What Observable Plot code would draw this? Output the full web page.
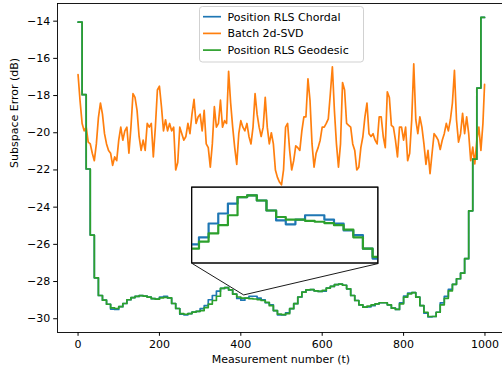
<!DOCTYPE html>
<html><head><meta charset="utf-8">
<script src="https://cdn.jsdelivr.net/npm/d3@7"></script>
<script src="https://cdn.jsdelivr.net/npm/@observablehq/plot@0.6"></script>
<style>
html,body{margin:0;padding:0;background:#fff;overflow:hidden}
#chart{position:relative;width:502px;height:370px}
#chart svg{position:absolute;left:0;top:0}
</style></head><body><div id="chart"></div>
<script>
// ---------- data ----------
const seriesNames = ["Position RLS Chordal", "Batch 2d-SVD", "Position RLS Geodesic"];
const seriesColors = ["#1f77b4", "#ff7f0e", "#2ca02c"];
const xTicks = [0, 200, 400, 600, 800, 1000];
const yTicks = [-30, -28, -26, -24, -22, -20, -18, -16, -14];
const xLabel = "Measurement number (t)";
const yLabel = "Subspace Error (dB)";

// block starts (one value held per block of 10 measurements), last measurement 999
const blockX = d3.range(0, 1000, 10);
const lastX = 999;

const geodesic = [
  -14.05, -17.95, -21.95, -25.5, -27.8, -28.75, -29.0, -29.22, -29.42, -29.45,
  -29.35, -29.18, -28.98, -28.86, -28.8, -28.76, -28.78, -28.84, -28.92, -28.95,
  -28.88, -28.85, -28.88, -29.18, -29.45, -29.72, -29.76, -29.72, -29.64, -29.6,
  -29.56, -29.40, -29.21, -29.02, -28.79, -28.37, -28.33, -28.45, -28.68, -28.83,
  -28.89, -28.89, -28.92, -28.94, -28.97, -29.02, -29.12, -29.30, -29.56, -29.75,
  -29.78, -29.73, -29.46, -29.19, -28.83, -28.57, -28.45, -28.44, -28.5, -28.53,
  -28.48, -28.35, -28.26, -28.17, -28.14, -28.2, -28.39, -28.75, -29.02, -29.25,
  -29.38, -29.32, -29.25, -29.2, -29.14, -29.14, -29.25, -29.43, -29.5, -29.2,
  -28.84, -28.66, -28.6, -28.84, -29.29, -29.65, -29.88, -29.88, -29.65, -29.25,
  -28.9, -28.5, -28.15, -27.85, -27.55, -26.77, -24.2, -21.42, -17.6, -13.8
];
const chordal = [
  -14.05, -17.95, -21.95, -25.5, -27.8, -28.75, -29.0, -29.22, -29.48, -29.5,
  -29.35, -29.18, -28.98, -28.86, -28.8, -28.76, -28.78, -28.84, -28.92, -28.95,
  -28.84, -28.8, -28.88, -29.18, -29.45, -29.76, -29.79, -29.72, -29.64, -29.6,
  -29.46, -29.30, -28.98, -28.75, -28.52, -28.37, -28.33, -28.45, -28.68, -28.91,
  -29.0, -28.89, -28.79, -28.79, -28.89, -28.98, -29.14, -29.25, -29.56, -29.79,
  -29.8, -29.68, -29.46, -29.19, -28.83, -28.57, -28.45, -28.44, -28.5, -28.53,
  -28.52, -28.35, -28.26, -28.17, -28.14, -28.2, -28.39, -28.75, -29.02, -29.25,
  -29.38, -29.36, -29.3, -29.2, -29.14, -29.14, -29.25, -29.43, -29.5, -29.15,
  -28.78, -28.62, -28.6, -28.84, -29.29, -29.7, -29.9, -29.88, -29.65, -29.15,
  -28.8, -28.42, -28.15, -27.85, -27.55, -26.77, -24.2, -21.42, -17.6, -13.8
];

// batch estimate, sampled every 5 measurements (0..995) plus 999
const batchX = d3.range(0, 1000, 5).concat([999]);
const batch = [
  -16.87, -18.3, -19.5, -19.9, -19.7, -20.5, -20.6, -21.1, -21.5, -20.6, -19.2, -18.4, -19.0, -20.05, -20.6, -20.95, -21.1, -21.75, -21.3, -21.5,
  -20.4, -19.7, -20.4, -19.9, -19.7, -21.1, -19.7, -17.9, -18.1, -18.8, -20.2, -20.95, -20.4, -20.95, -19.5, -19.7, -19.5, -21.3, -19.7, -17.7,
  -17.5, -18.6, -19.9, -19.3, -19.9, -19.5, -19.9, -19.7, -22.0, -21.6, -19.7, -20.05, -20.4, -20.2, -19.5, -20.05, -19.0, -18.2, -19.5, -19.15,
  -19.0, -19.9, -18.8, -20.6, -20.8, -21.85, -20.6, -18.6, -19.7, -19.5, -18.25, -19.7, -19.35, -19.5, -16.7, -18.4, -19.7, -20.8, -21.7, -20.05,
  -19.35, -19.7, -19.9, -19.5, -20.2, -20.6, -19.7, -17.9, -19.0, -19.7, -20.2, -19.7, -18.1, -19.7, -20.6, -20.0, -20.6, -22.0, -22.4, -22.65,
  -22.8, -22.0, -19.7, -19.5, -20.95, -22.0, -21.5, -20.7, -20.8, -20.95, -19.9, -19.15, -19.15, -17.1, -18.25, -20.6, -21.85, -21.1, -20.8, -20.4,
  -19.7, -19.7, -19.5, -19.25, -17.9, -16.45, -18.8, -20.6, -21.85, -20.6, -17.3, -17.7, -19.5, -19.6, -19.7, -20.6, -20.95, -22.0, -21.85, -20.8,
  -20.2, -19.15, -18.4, -20.05, -20.2, -20.05, -20.4, -20.6, -19.15, -19.15, -20.2, -20.8, -17.8, -18.1, -19.6, -19.7, -20.4, -21.3, -19.7, -19.7,
  -20.4, -19.7, -21.5, -21.1, -19.3, -16.3, -19.3, -20.05, -19.15, -19.7, -20.6, -21.7, -20.95, -22.2, -21.1, -20.05, -20.2, -20.4, -20.9, -20.4,
  -20.05, -19.5, -19.9, -19.3, -18.4, -16.65, -19.3, -20.5, -20.05, -18.95, -20.05, -19.15, -20.05, -21.5, -20.77, -21.67, -20.4, -19.7, -20.95, -19.5,
  -17.4
];

// inset placement (main data coords), inset view limits, and the marked spot
const insetBox = {x1: 280.5, x2: 738, y1: -27.03, y2: -22.95};
const insetXDomain = [303.3, 496.3];
const insetYDomain = [-29.90, -28.15];
const zoomSpot = {x: 407, y: -28.72};

// ---------- tables ----------
const stepRows = vals => blockX.concat([lastX]).map((x, i) => ({x, y: i < vals.length ? vals[i] : vals[vals.length - 1]}));
const chordalRows = stepRows(chordal);
const geodesicRows = stepRows(geodesic);
const batchRows = batchX.map((x, i) => ({x, y: batch[i]}));
const connectors = [
  {x1: insetBox.x1, y1: insetBox.y1, x2: zoomSpot.x, y2: zoomSpot.y},
  {x1: insetBox.x2, y1: insetBox.y1, x2: zoomSpot.x, y2: zoomSpot.y}
];

const fmtMinus = d => (d < 0 ? "\u2212" + Math.abs(d) : String(d));
const FONT = "'DejaVu Sans', sans-serif";

const mainPlot = Plot.plot({
  width: 502, height: 370,
  marginLeft: 57, marginRight: -2, marginTop: 3, marginBottom: 38,
  style: {fontFamily: FONT, fontSize: "11px", color: "#000", background: "transparent", overflow: "visible"},
  x: {domain: [-50.5, 1048]},
  y: {domain: [-30.74, -13.05]},
  marks: [
    Plot.line(chordalRows, {x: "x", y: "y", curve: "step-after", stroke: seriesColors[0], strokeWidth: 1.7}),
    Plot.line(batchRows, {x: "x", y: "y", stroke: seriesColors[1], strokeWidth: 1.7}),
    Plot.line(geodesicRows, {x: "x", y: "y", curve: "step-after", stroke: seriesColors[2], strokeWidth: 1.7}),
    Plot.rect([insetBox], {x1: "x1", x2: "x2", y1: "y1", y2: "y2", fill: "white", stroke: "black", strokeWidth: 1}),
    Plot.link(connectors, {x1: "x1", y1: "y1", x2: "x2", y2: "y2", stroke: "black", strokeWidth: 0.9}),
    Plot.frame({stroke: "#000", strokeWidth: 0.9}),
    Plot.axisX(xTicks, {tickSize: 3.8, tickPadding: 3.5, tickFormat: d => String(d), label: null, fontSize: 11}),
    Plot.axisY(yTicks, {tickSize: 3.8, tickPadding: 3.5, tickFormat: fmtMinus, label: null, fontSize: 11}),
    Plot.text([yLabel], {text: d => d, frameAnchor: "left", dx: -43, rotate: -90, fontSize: 11}),
    Plot.text([xLabel], {text: d => d, frameAnchor: "bottom", dy: 30, fontSize: 11})
  ]
});
document.getElementById("chart").appendChild(mainPlot);

// legend (upper center, inside axes)
const lg = d3.select(mainPlot).append("g").attr("font-family", FONT).attr("font-size", 11).attr("text-anchor", "start");
lg.append("rect").attr("x", 199.5).attr("y", 6.5).attr("width", 164).attr("height", 55.5)
  .attr("rx", 3).attr("fill", "white").attr("fill-opacity", 0.8).attr("stroke", "#cccccc").attr("stroke-width", 0.9);
seriesNames.forEach((name, i) => {
  const cy = 16.7 + i * 16.7;
  lg.append("line").attr("x1", 203).attr("x2", 221).attr("y1", cy).attr("y2", cy)
    .attr("stroke", seriesColors[i]).attr("stroke-width", 1.7);
  lg.append("text").attr("x", 227.5).attr("y", cy).attr("dy", "0.35em").attr("text-anchor", "start")
    .attr("fill", "#000").text(name);
});

// inset axes
const sx = mainPlot.scale("x"), sy = mainPlot.scale("y");
const insL = sx.apply(insetBox.x1), insR = sx.apply(insetBox.x2);
const insT = sy.apply(insetBox.y2), insB = sy.apply(insetBox.y1);
const insetPlot = Plot.plot({
  width: insR - insL, height: insB - insT, margin: 0,
  x: {domain: insetXDomain, axis: null},
  y: {domain: insetYDomain, axis: null},
  style: {background: "transparent", overflow: "hidden"},
  marks: [
    Plot.line(chordalRows, {x: "x", y: "y", curve: "step-after", stroke: seriesColors[0], strokeWidth: 2.2, clip: true}),
    Plot.line(geodesicRows, {x: "x", y: "y", curve: "step-after", stroke: seriesColors[2], strokeWidth: 2.2, clip: true})
  ]
});
insetPlot.style.left = insL + "px";
insetPlot.style.top = insT + "px";
document.getElementById("chart").appendChild(insetPlot);
const border = d3.select("#chart").append("svg").attr("width", 502).attr("height", 370).style("pointer-events", "none");
border.append("rect").attr("x", insL).attr("y", insT).attr("width", insR - insL).attr("height", insB - insT)
  .attr("fill", "none").attr("stroke", "black").attr("stroke-width", 1);
</script></body></html>
